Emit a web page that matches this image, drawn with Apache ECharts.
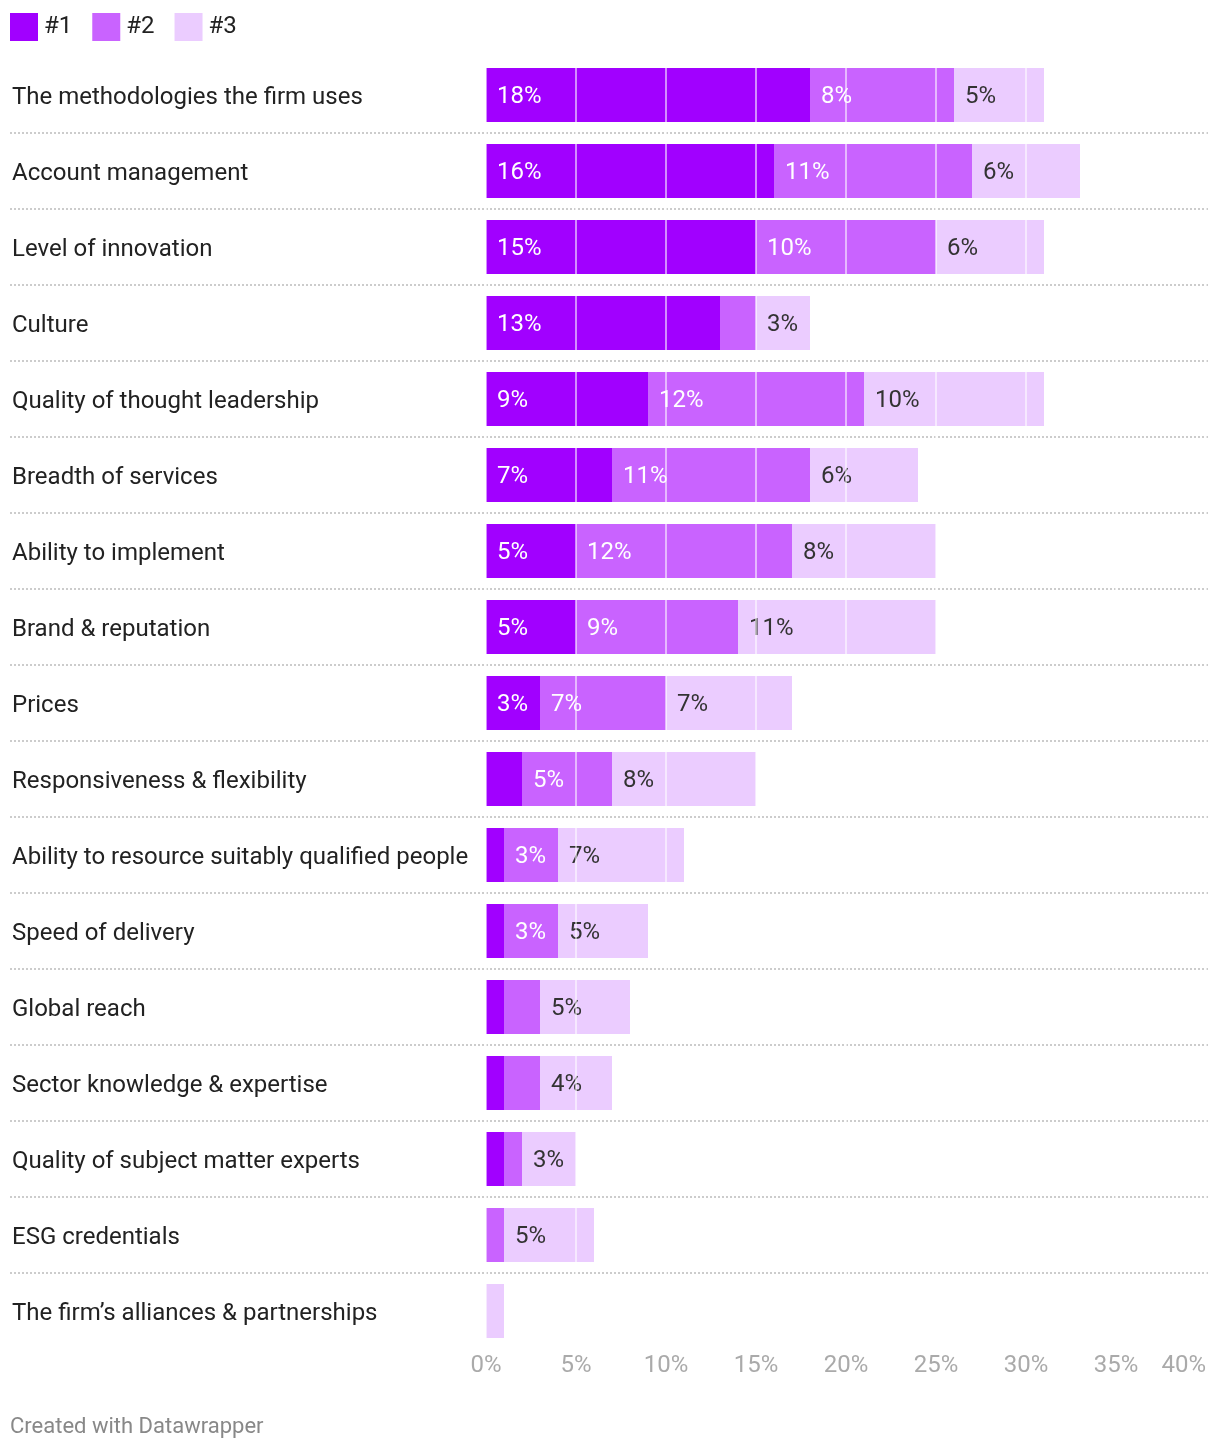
<!DOCTYPE html>
<html>
<head>
<meta charset="utf-8">
<script src="https://cdn.jsdelivr.net/npm/echarts@6/dist/echarts.min.js"></script>
<style>html,body{margin:0;padding:0;background:#fff;}#c{width:1220px;height:1452px;}</style>
</head>
<body>
<div id="c"></div>
<script>
const categories = [
  "The methodologies the firm uses",
  "Account management",
  "Level of innovation",
  "Culture",
  "Quality of thought leadership",
  "Breadth of services",
  "Ability to implement",
  "Brand & reputation",
  "Prices",
  "Responsiveness & flexibility",
  "Ability to resource suitably qualified people",
  "Speed of delivery",
  "Global reach",
  "Sector knowledge & expertise",
  "Quality of subject matter experts",
  "ESG credentials",
  "The firm\u2019s alliances & partnerships"
];
const rank1 = [18, 16, 15, 13, 9, 7, 5, 5, 3, 2, 1, 1, 1, 1, 1, 0, 0];
const rank2 = [8, 11, 10, 2, 12, 11, 12, 9, 7, 5, 3, 3, 2, 2, 1, 1, 0];
const rank3 = [5, 6, 6, 3, 10, 6, 8, 11, 7, 8, 7, 5, 5, 4, 3, 5, 1];
const seriesNames = ["#1", "#2", "#3"];
const colors = ["#a100ff", "#c963ff", "#ebccff"];
const labelColors = ["#ffffff", "#ffffff", "#333333"];
const xTicks = { min: 0, max: 40, interval: 5 };

const font = "Roboto, 'Noto Sans', sans-serif";
const chart = echarts.init(document.getElementById('c'), null, { renderer: 'canvas' });

function mkSeries(name, data, i) {
  return {
    name: name,
    type: 'bar',
    stack: 'total',
    xAxisIndex: 0,
    yAxisIndex: 0,
    data: data,
    barWidth: 54,
    itemStyle: { color: colors[i] },
    label: {
      show: true,
      position: 'insideLeft',
      distance: 11,
      offset: [0, 2],
      fontSize: 24,
      fontFamily: font,
      color: labelColors[i],
      formatter: p => (p.value >= 3 ? p.value + '%' : '')
    },
    emphasis: { disabled: true },
    z: 2
  };
}

chart.setOption({
  animation: false,
  textStyle: { fontFamily: font },
  title: {
    text: 'Created with Datawrapper',
    left: 10,
    top: 1416,
    padding: 0,
    textStyle: { fontSize: 22, color: '#888888', fontWeight: 'normal', fontFamily: font }
  },
  legend: {
    left: 10,
    top: 13,
    padding: 0,
    icon: 'rect',
    itemWidth: 28,
    itemHeight: 28,
    itemGap: 20,
    textStyle: { fontSize: 24, color: '#222222', fontFamily: font, padding: [2, 0, 0, 1] },
    data: seriesNames
  },
  grid: [
    { left: 486, right: 14, top: 57, bottom: 103, containLabel: false },
    { left: 10, right: 12, top: 57, bottom: 103, containLabel: false }
  ],
  xAxis: [
    {
      gridIndex: 0,
      type: 'value',
      min: xTicks.min,
      max: xTicks.max,
      interval: xTicks.interval,
      z: 10,
      axisLine: { show: false },
      axisTick: { show: false },
      axisLabel: {
        formatter: '{value}%',
        color: '#aaaaaa',
        fontSize: 24,
        fontFamily: font,
        margin: 5,
        alignMaxLabel: 'right'
      },
      splitLine: { show: true, lineStyle: { color: 'rgba(255,255,255,0.55)', width: 2 } }
    },
    {
      gridIndex: 1,
      type: 'value',
      min: 0,
      max: 1,
      show: false
    }
  ],
  yAxis: [
    {
      gridIndex: 0,
      type: 'category',
      inverse: true,
      data: categories,
      axisLine: { show: false },
      axisTick: { show: false },
      splitLine: { show: false },
      axisLabel: {
        align: 'left',
        margin: 474,
        fontSize: 24,
        color: '#222222',
        fontFamily: font,
        formatter: v => '{a|' + v + '}',
        rich: {
          a: { fontSize: 24, color: '#222222', fontFamily: font, padding: [5, 0, 0, 0] }
        }
      }
    },
    {
      gridIndex: 1,
      type: 'category',
      inverse: true,
      data: categories,
      axisLine: { show: false },
      axisTick: { show: false },
      axisLabel: { show: false },
      splitLine: {
        show: true,
        showMinLine: false,
        showMaxLine: false,
        lineStyle: { color: '#cccccc', type: [2, 2], width: 2 }
      }
    }
  ],
  series: [
    mkSeries(seriesNames[0], rank1, 0),
    mkSeries(seriesNames[1], rank2, 1),
    mkSeries(seriesNames[2], rank3, 2)
  ]
});
</script>
</body>
</html>
